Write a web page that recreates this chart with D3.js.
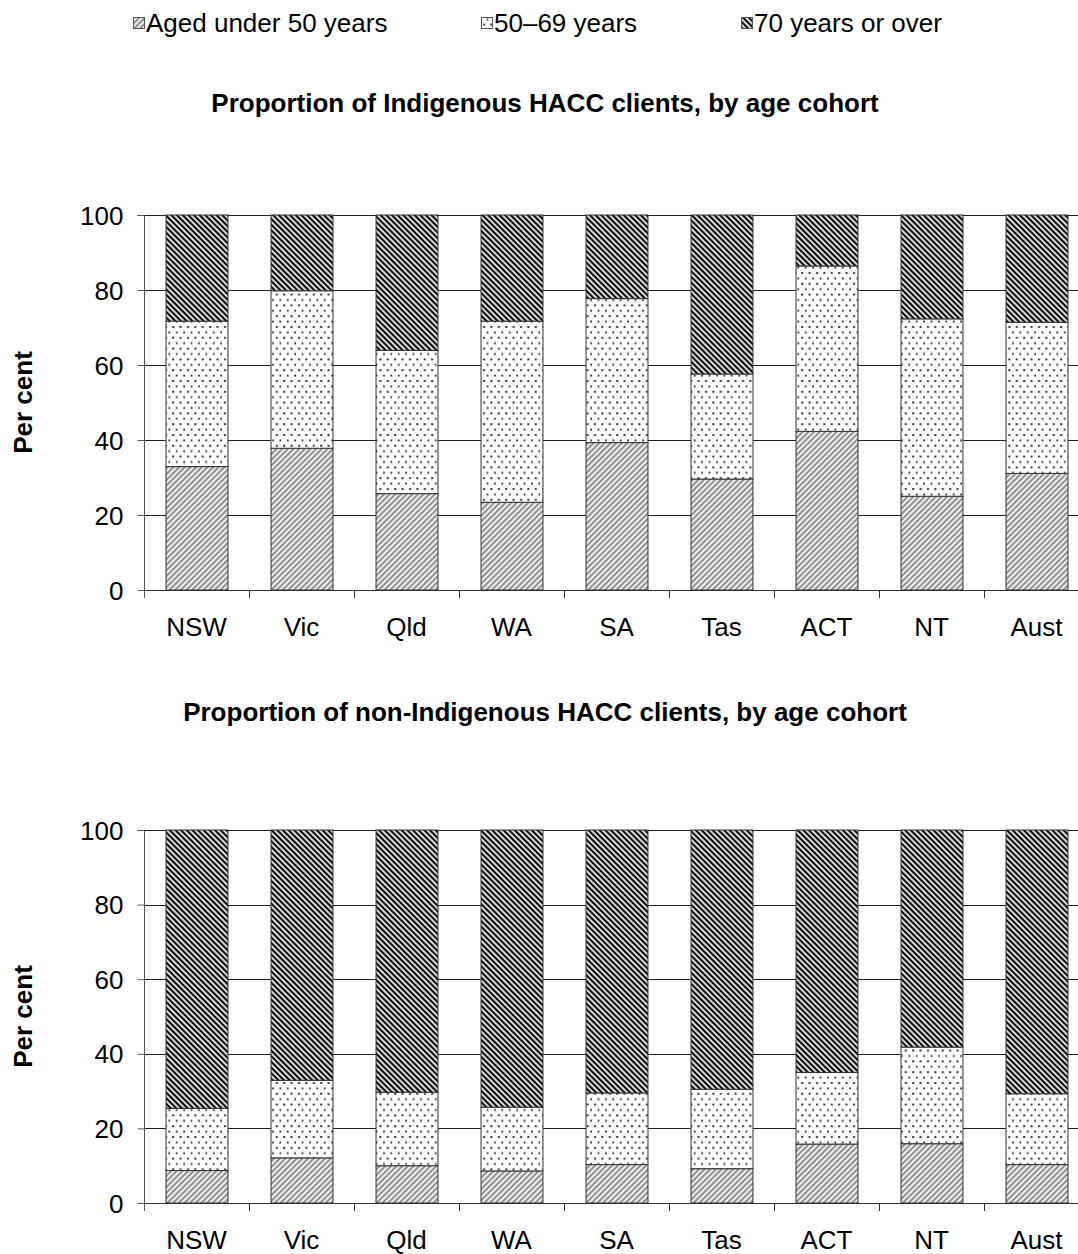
<!DOCTYPE html>
<html><head><meta charset="utf-8">
<script src="https://cdn.jsdelivr.net/npm/d3@7"></script>
<style>body{margin:0;background:#fff}svg{display:block;font-family:"Liberation Sans",Arial,sans-serif}</style>
</head><body>
<script>
const categories = ["NSW","Vic","Qld","WA","SA","Tas","ACT","NT","Aust"];
const seriesNames = ["Aged under 50 years","50\u201369 years","70 years or over"];
const yTicks = [0,20,40,60,80,100];
// Indigenous clients (per cent)
const indUnder50 = [32.9,37.8,25.7,23.4,39.3,29.6,42.3,25.0,31.1];
const ind50to69  = [38.8,42.0,38.2,48.3,38.4,28.0,44.1,47.3,40.3];
const ind70plus  = [28.3,20.2,36.1,28.3,22.3,42.4,13.6,27.7,28.6];
// Non-Indigenous clients (per cent)
const non50Under = [8.7,12.1,10.0,8.6,10.3,9.2,15.8,15.9,10.3];
const non50to69  = [16.7,20.8,19.7,17.1,19.2,21.3,19.2,25.9,19.0];
const non70plus  = [74.6,67.1,70.3,74.3,70.5,69.5,65.0,58.2,70.7];

const W = 1078, H = 1254;
const FS = 26;
const svg = d3.select("body").append("svg").attr("width",W).attr("height",H);
const defs = svg.append("defs");

// patterns
const p1 = defs.append("pattern").attr("id","pUnder").attr("patternUnits","userSpaceOnUse")
  .attr("width",4).attr("height",4).attr("patternTransform","rotate(45)");
p1.append("rect").attr("width",4).attr("height",4).attr("fill","#ececec");
p1.append("rect").attr("width",2).attr("height",4).attr("fill","#939393");

const p2 = defs.append("pattern").attr("id","pMid").attr("patternUnits","userSpaceOnUse")
  .attr("width",7.4).attr("height",10.8);
p2.append("rect").attr("width",7.4).attr("height",10.8).attr("fill","#fff");
p2.append("rect").attr("x",2).attr("y",2).attr("width",2).attr("height",2).attr("fill","#333");
p2.append("rect").attr("x",5.7).attr("y",7.4).attr("width",2).attr("height",2).attr("fill","#333");

const p3 = defs.append("pattern").attr("id","pOld").attr("patternUnits","userSpaceOnUse")
  .attr("width",4).attr("height",4).attr("patternTransform","rotate(-45)");
p3.append("rect").attr("width",4).attr("height",4).attr("fill","#d8d8d8");
p3.append("rect").attr("width",2).attr("height",4).attr("fill","#111");

const fills = ["url(#pUnder)","url(#pMid)","url(#pOld)"];

// legend
const legendX = [133,481,741];
seriesNames.forEach((n,i)=>{
  const g = svg.append("g").attr("transform",`translate(${legendX[i]},0)`);
  g.append("rect").attr("x",0.5).attr("y",17.5).attr("width",11).attr("height",11)
   .attr("fill",fills[i]).attr("stroke","#555").attr("stroke-width",1);
  g.append("text").attr("x",13).attr("y",32).attr("font-size",FS).attr("fill","#000").text(n);
});

const x = d3.scaleBand().domain(categories).range([144,1089]).paddingInner(0.41).paddingOuter(0.205);

function drawChart(title, titleY, top, bottom, s1, s2, s3){
  const y = d3.scaleLinear().domain([0,100]).range([bottom,top]);
  svg.append("text").attr("x",545).attr("y",titleY).attr("text-anchor","middle")
    .attr("font-size",FS).attr("font-weight","bold").text(title);
  // grid
  svg.append("g").selectAll("line").data(yTicks.filter(d=>d>0)).join("line")
    .attr("x1",144).attr("x2",W).attr("y1",d=>Math.round(y(d))+0.5).attr("y2",d=>Math.round(y(d))+0.5)
    .attr("stroke","#222").attr("stroke-width",1);
  // stacks
  const rows = categories.map((c,i)=>({cat:c, a:s1[i], b:s2[i], c3:s3[i]}));
  const stack = d3.stack().keys(["a","b","c3"])(rows);
  stack.forEach((layer,li)=>{
    svg.append("g").selectAll("rect").data(layer).join("rect")
      .attr("x",d=>x(d.data.cat)+0.5).attr("width",x.bandwidth())
      .attr("y",d=>y(Math.min(100,d[1]))).attr("height",d=>y(d[0])-y(Math.min(100,d[1])))
      .attr("fill",fills[li]).attr("stroke","#333").attr("stroke-width",1);
  });
  // y axis
  const ya = svg.append("g").attr("transform","translate(144.5,0)")
    .call(d3.axisLeft(y).tickValues(yTicks).tickSize(7).tickPadding(14).tickFormat(d3.format("d")));
  ya.select(".domain").attr("stroke","#555").attr("d",`M-7,${Math.round(y(100))+0.5}H0V${bottom+8}`);
  ya.selectAll(".tick line").attr("stroke","#555");
  ya.selectAll("text").attr("font-size",FS).attr("fill","#000").attr("font-family","Liberation Sans, Arial, sans-serif").attr("dy","0.35em");
  // x axis
  const xa = svg.append("g").attr("transform",`translate(0,${Math.round(bottom)+0.5})`)
    .call(d3.axisBottom(x).tickSize(0).tickPadding(27));
  xa.select(".domain").attr("stroke","#333").attr("d",`M144,0H${W}`);
  xa.selectAll("text").attr("font-size",FS).attr("fill","#000").attr("font-family","Liberation Sans, Arial, sans-serif");
  // x tick marks between categories
  const bounds = categories.slice(1).map(c=>x(c) - x.step()*x.paddingInner()/2);
  svg.append("g").selectAll("line").data(bounds).join("line")
    .attr("x1",d=>Math.round(d)+0.5).attr("x2",d=>Math.round(d)+0.5)
    .attr("y1",Math.round(bottom)).attr("y2",Math.round(bottom)+8).attr("stroke","#333");
  // y label
  svg.append("text").attr("transform",`translate(32,${(top+bottom)/2}) rotate(-90)`)
    .attr("text-anchor","middle").attr("font-size",FS).attr("font-weight","bold").text("Per cent");
}

drawChart("Proportion of Indigenous HACC clients, by age cohort",112,215,590,indUnder50,ind50to69,ind70plus);
drawChart("Proportion of non-Indigenous HACC clients, by age cohort",721,830,1203,non50Under,non50to69,non70plus);
</script>
</body></html>
